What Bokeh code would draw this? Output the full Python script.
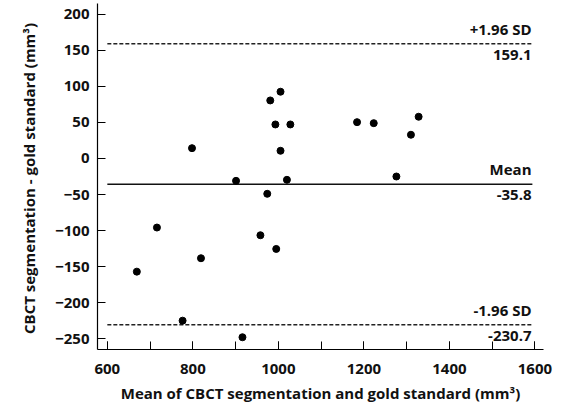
from bokeh.plotting import figure
from bokeh.models import SingleIntervalTicker, Range1d
from bokeh.core.properties import value
from bokeh.embed import file_html
from bokeh.resources import INLINE

# Data
mean_vals = [798, 981, 1005, 993, 1028, 1005, 1184, 1223, 1328, 1310, 1276,
             901, 1020, 974, 716, 958, 995, 819, 669, 776, 916]
diff_vals = [14.3, 80.5, 92.6, 47.2, 47.2, 10.7, 50.4, 49.0, 57.9, 32.9, -25.0,
             -31.0, -29.6, -49.0, -95.8, -106.5, -125.5, -138.4, -157.0, -225.0, -248.0]

mean_diff = -35.8
upper_loa = 159.1
lower_loa = -230.7
line_extent = [600, 1594]
label_x = 1592

FONT = "Open Sans"
FS = "15px"

p = figure(width=565, height=406, output_backend="svg", toolbar_location=None,
           x_range=Range1d(577, 1620), y_range=Range1d(-265, 215),
           min_border_left=97, min_border_right=22, min_border_top=3, min_border_bottom=57)
p.outline_line_color = None
p.grid.visible = False
p.background_fill_color = "white"

# Axes
for ax in (p.xaxis[0], p.yaxis[0]):
    ax.axis_line_color = "black"
    ax.axis_line_width = 1.2
    ax.major_tick_line_color = "black"
    ax.minor_tick_line_color = "black"
    ax.major_tick_in = 8
    ax.major_tick_out = 0
    ax.minor_tick_in = 8
    ax.minor_tick_out = 0
    ax.major_label_text_font = FONT
    ax.major_label_text_font_style = "bold"
    ax.major_label_text_font_size = FS
    ax.major_label_text_color = "#111111"
    ax.axis_label_text_font = FONT
    ax.axis_label_text_font_style = "bold"
    ax.axis_label_text_font_size = FS
    ax.axis_label_text_color = "#111111"

p.xaxis.ticker = SingleIntervalTicker(interval=200, num_minor_ticks=2)
p.yaxis.ticker = SingleIntervalTicker(interval=50, num_minor_ticks=0)
p.xaxis.major_label_standoff = 14
p.yaxis.major_label_standoff = 8
p.xaxis.axis_label = "Mean of CBCT segmentation and gold standard (mm³)"
p.yaxis.axis_label = "CBCT segmentation  - gold standard (mm³)"
p.xaxis.axis_label_standoff = 6
p.yaxis.axis_label_standoff = 13

# Reference lines
p.line(line_extent, [upper_loa, upper_loa], line_color="#222222", line_width=1.5, line_dash="4 2")
p.line(line_extent, [lower_loa, lower_loa], line_color="#222222", line_width=1.5, line_dash="4 2")
p.line(line_extent, [mean_diff, mean_diff], line_color="#111111", line_width=1.5)

# Points
p.scatter(mean_vals, diff_vals, size=7, color="black")

# Labels
above = ["+1.96 SD", "Mean", "-1.96 SD"]
below = ["%.1f" % upper_loa, "%.1f" % mean_diff, "%.1f" % lower_loa]
levels = [upper_loa, mean_diff, lower_loa]
p.text([label_x] * 3, levels, text=above, text_align="right", text_baseline="bottom",
       y_offset=-5, text_font=value(FONT), text_font_style="bold",
       text_font_size=FS, text_color="#111111")
p.text([label_x] * 3, levels, text=below, text_align="right", text_baseline="top",
       y_offset=6, text_font=value(FONT), text_font_style="bold",
       text_font_size=FS, text_color="#111111")

open("out.html", "w").write(file_html(p, INLINE))
